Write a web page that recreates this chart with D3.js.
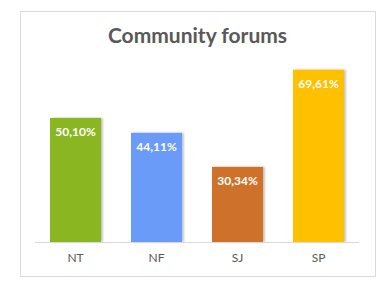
<!DOCTYPE html>
<html><head><meta charset="utf-8">
<script src="https://cdn.jsdelivr.net/npm/d3@7"></script>
<style>body{margin:0;background:#fff;}svg{display:block;}</style>
</head><body>
<script>
const categories = ["NT", "NF", "SJ", "SP"];
const values = [50.10, 44.11, 30.34, 69.61];
const labels = ["50,10%", "44,11%", "30,34%", "69,61%"];
const colors = ["#8AB623", "#6A9BF9", "#CE712B", "#FFC000"];
const title = "Community forums";

const W = 388, H = 281;
const svg = d3.select("body").append("svg").attr("width", W).attr("height", H);
const defs = svg.append("defs");
const f = defs.append("filter").attr("id","sh").attr("x","-20%").attr("y","-20%").attr("width","140%").attr("height","140%");
f.append("feDropShadow").attr("dx",1.5).attr("dy",0).attr("stdDeviation",1.2).attr("flood-color","#000").attr("flood-opacity",0.3);

svg.append("rect").attr("x",20.5).attr("y",11.5).attr("width",355).attr("height",265)
  .attr("fill","#fff").attr("stroke","#D9D9D9").attr("stroke-width",1);

svg.append("text").attr("x",197.5).attr("y",43).attr("text-anchor","middle")
  .attr("font-family","Lato, 'Open Sans', sans-serif").attr("font-weight","bold")
  .attr("font-size",21).attr("fill","#595959").text(title);

const x = d3.scaleBand().domain(categories).range([35, 359]).paddingInner(0.37).paddingOuter(0.185);
const y = d3.scaleLinear().domain([0, 80]).range([242, 44]);

svg.append("g").selectAll("rect").data(categories).join("rect")
  .attr("x", d => x(d)).attr("width", x.bandwidth())
  .attr("y", (d,i) => y(values[i])).attr("height", (d,i) => y(0) - y(values[i]))
  .attr("fill", (d,i) => colors[i]).attr("filter","url(#sh)");

svg.append("g").selectAll("text").data(categories).join("text")
  .attr("x", d => x(d) + x.bandwidth()/2).attr("y", (d,i) => y(values[i]) + 18)
  .attr("text-anchor","middle").attr("font-family","Lato, 'Open Sans', sans-serif")
  .attr("font-weight","bold").attr("font-size",12).attr("fill","#fff")
  .text((d,i) => labels[i]);

const ax = svg.append("g").attr("transform","translate(0,242)")
  .call(d3.axisBottom(x).tickSize(0).tickPadding(11));
ax.select(".domain").attr("stroke","#D9D9D9").attr("d","M35,0.5H359");
ax.selectAll("text").attr("font-family","Lato, 'Open Sans', sans-serif").attr("font-size",12).attr("fill","#595959");
</script>
</body></html>
